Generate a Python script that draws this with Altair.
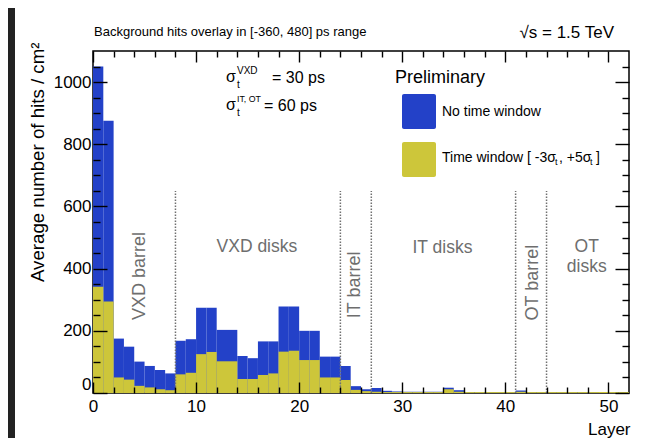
import altair as alt
import pandas as pd

FONT = "Liberation Sans"
BLUE = "#2341c8"
YELLOW = "#cdc63a"
GRAY = "#6e6e6e"

# ---- data -------------------------------------------------------------
layer_start = list(range(52))
no_time_window = [1050, 876, 175, 149, 101, 87, 74, 63, 168, 173, 274, 274, 203, 203, 119, 112,
                  166, 166, 278, 278, 200, 200, 117, 117, 87, 22, 12, 16, 7, 5,
                  4, 4, 4, 4, 17, 9, 3, 3, 3, 3, 3, 8,
                  3, 3, 3, 3, 3, 3, 3, 3, 3, 3]
with_time_window = [342, 294, 50, 43, 23, 18, 12, 9, 60, 65, 125, 132, 102, 102, 45, 45,
                    58, 63, 133, 136, 106, 106, 50, 50, 42, 10, 6, 4, 3, 3,
                    3, 3, 3, 3, 12, 4, 3, 3, 3, 3, 3, 4,
                    3, 3, 3, 3, 3, 3, 3, 3, 3, 3]
boundaries = [8, 24, 27, 41, 44]
boundary_top = 650

rot_labels = ["VXD barrel", "IT barrel", "OT barrel"]
rot_x = [4.6, 25.4, 42.7]
rot_y = [376, 348, 355]
hor_labels = ["VXD disks", "IT disks", "OT", "disks"]
hor_x = [15.9, 33.9, 47.9, 47.9]
hor_y = [470, 466, 469, 406]

x_major = [0, 10, 20, 30, 40, 50]
x_minor = [v for v in range(2, 52, 2) if v % 10]
y_major = [0, 200, 400, 600, 800, 1000]
y_minor = [v for v in range(50, 1100, 50) if v % 200]

df = pd.DataFrame({
    "x0": layer_start,
    "x1": [v + 1 for v in layer_start],
    "blue": no_time_window,
    "yellow": with_time_window,
})
df_b = pd.DataFrame({"b": boundaries})
df_rot = pd.DataFrame({"t": rot_labels, "x": rot_x, "y": rot_y})
df_hor = pd.DataFrame({"t": hor_labels, "x": hor_x, "y": hor_y})
ONE = pd.DataFrame({"k": [0]})

xs = alt.Scale(domain=[0, 52], nice=False, zero=False)
ys = alt.Scale(domain=[0, 1100], nice=False)

# ---- axes ---------------------------------------------------------------
x_label_axis = alt.Axis(values=x_major, ticks=False, tickSize=0, domain=False, grid=False,
                        labelFontSize=17, labelPadding=5, labelFlush=False, labelColor="black",
                        labelFont=FONT, format="d", title="Layer", titleFont=FONT, titleFontSize=17,
                        titleFontWeight="normal", titleColor="black", titleAlign="right",
                        titleX=537, titleY=36, titleBaseline="middle")
y_label_axis = alt.Axis(values=y_major, ticks=False, tickSize=0, domain=False, grid=False,
                        labelFontSize=17, labelPadding=2, labelFlush=True, labelColor="black",
                        labelFont=FONT, format="d", title="Average number of hits / cm²",
                        titleFont=FONT, titleFontSize=18.7, titleFontWeight="normal",
                        titleColor="black", titleAngle=270, titleAlign="right",
                        titleX=-56, titleY=-9, titleBaseline="middle")


def tick_layer(xorient, yorient, xvals, yvals, xlen, ylen):
    ax = alt.Axis(orient=xorient, values=xvals, tickSize=xlen, offset=-xlen, domain=False,
                  labels=False, grid=False, title=None, tickColor="black", tickWidth=1.4, zindex=2)
    ay = alt.Axis(orient=yorient, values=yvals, tickSize=ylen, offset=-ylen, domain=False,
                  labels=False, grid=False, title=None, tickColor="black", tickWidth=1.4, zindex=2)
    return alt.Chart(df).mark_point(opacity=0).encode(
        x=alt.X("x0:Q", scale=xs, axis=ax),
        y=alt.Y("blue:Q", scale=ys, axis=ay),
    )


def txt(s, x, y, size, align="left", color="black"):
    return alt.Chart(ONE).mark_text(text=s, fontSize=size, align=align, baseline="middle",
                                    color=color, font=FONT).encode(
        x=alt.value(x), y=alt.value(y))


def box(x, x2, y, y2, color):
    return alt.Chart(ONE).mark_rect(color=color, cornerRadius=2).encode(
        x=alt.value(x), x2=alt.value(x2), y=alt.value(y), y2=alt.value(y2))


blue_bars = alt.Chart(df).mark_rect(color=BLUE).encode(
    x=alt.X("x0:Q", scale=xs, axis=x_label_axis),
    x2="x1:Q",
    y=alt.Y("blue:Q", scale=ys, axis=y_label_axis),
    y2=alt.Y2Datum(0),
)
yellow_bars = alt.Chart(df).mark_rect(color=YELLOW).encode(
    x=alt.X("x0:Q", scale=xs, axis=None),
    x2="x1:Q",
    y=alt.Y("yellow:Q", scale=ys, axis=None),
    y2=alt.Y2Datum(0),
)
rules = alt.Chart(df_b).mark_rule(color="#707070", strokeDash=[1.5, 1.5], strokeWidth=1.5).encode(
    x=alt.X("b:Q", scale=xs, axis=None),
    y=alt.YDatum(0, scale=ys, axis=None),
    y2=alt.Y2Datum(boundary_top),
)
rot_text = alt.Chart(df_rot).mark_text(angle=270, fontSize=18, color=GRAY, font=FONT,
                                       align="center", baseline="middle").encode(
    x=alt.X("x:Q", scale=xs, axis=None),
    y=alt.Y("y:Q", scale=ys, axis=None),
    text="t:N",
)
hor_text = alt.Chart(df_hor).mark_text(fontSize=17.5, color=GRAY, font=FONT,
                                       align="center", baseline="middle").encode(
    x=alt.X("x:Q", scale=xs, axis=None),
    y=alt.Y("y:Q", scale=ys, axis=None),
    text="t:N",
)

layers = [
    alt.Chart(ONE).mark_rect(color="#222222").encode(
        x=alt.value(-85), x2=alt.value(-78), y=alt.value(-43), y2=alt.value(387)),
    blue_bars, yellow_bars, rules, rot_text, hor_text,
    tick_layer("bottom", "left", x_major, y_major, 11, 14),
    tick_layer("bottom", "left", x_minor, y_minor, 6, 7),
    tick_layer("top", "right", x_major, y_major, 11, 14),
    tick_layer("top", "right", x_minor, y_minor, 6, 7),
    # header
    txt("Background hits overlay in [-360, 480] ps range", 1, -19, 13),
    txt("√s = 1.5 TeV", 521, -18, 17, align="right"),
    # sigma annotations
    txt("σ", 133, 26, 16), txt("VXD", 144, 20, 10), txt("t", 144, 34, 10),
    txt("= 30 ps", 179, 27, 16),
    txt("σ", 133, 54, 16), txt("IT, OT", 144, 48, 8.8), txt("t", 144, 62, 10),
    txt("= 60 ps", 171, 55, 16),
    # legend
    txt("Preliminary", 302, 27, 18),
    box(309, 343, 43, 78, BLUE),
    box(309, 343, 91, 126, YELLOW),
    txt("No time window", 349, 61, 14),
    txt("Time window [ -3σ", 349, 107, 14),
    txt("t", 462, 111, 9),
    txt(", +5σ", 466, 107, 14),
    txt("t", 497, 111, 9),
    txt("]", 503, 107, 14),
]

chart = alt.layer(*layers).resolve_axis(x="independent", y="independent").properties(
    width=536, height=342,
    padding={"left": 85, "top": 43, "right": 17, "bottom": 45},
    autosize=alt.AutoSizeParams(type="none"),
).configure(font=FONT).configure_view(stroke="black", strokeWidth=1.5)

chart.save("out.html", embed_options={"renderer": "svg", "actions": False})
